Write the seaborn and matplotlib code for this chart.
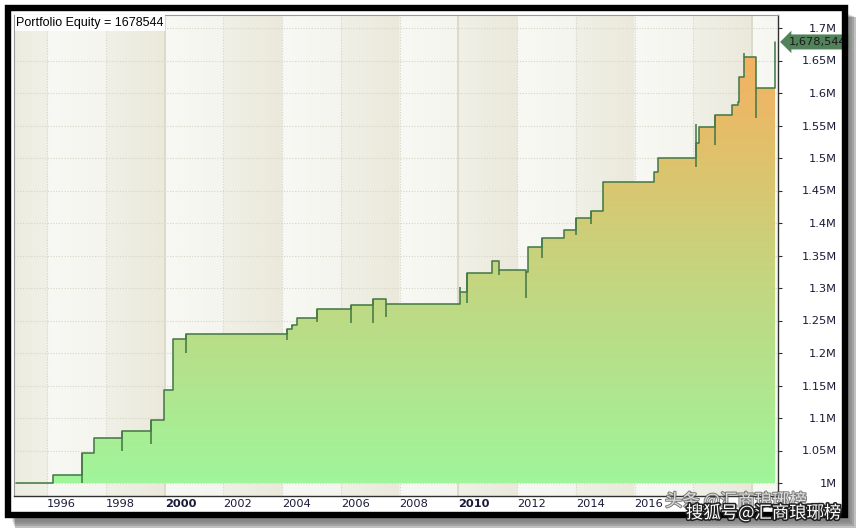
import numpy as np
import seaborn as sns
import matplotlib.pyplot as plt
from matplotlib import ticker, patheffects
from matplotlib.colors import LinearSegmentedColormap, to_rgb
from matplotlib.patches import Rectangle

# equity curve: step dates (fractional years) and equity after each step
dates = [1994.94, 1996.20, 1997.19, 1997.60, 1998.56, 1999.55, 1999.99, 2000.27,
         2000.71, 2004.16, 2004.33, 2004.50, 2005.18, 2006.34, 2007.09, 2007.54,
         2010.06, 2010.30, 2011.15, 2011.39, 2012.31, 2012.38, 2012.83, 2013.58,
         2014.02, 2014.53, 2014.91, 2016.65, 2016.79, 2018.08, 2018.18, 2018.73,
         2019.31, 2019.52, 2019.55, 2019.72, 2020.13, 2020.78]
equity = [1000000, 1012000, 1046000, 1069000, 1080000, 1097000, 1143000, 1222000,
          1229000, 1237000, 1243000, 1254000, 1268000, 1274000, 1283000, 1275000,
          1294000, 1323000, 1341000, 1328000, 1325000, 1363000, 1377000, 1389000,
          1408000, 1418000, 1463000, 1478000, 1500000, 1523000, 1548000, 1566000,
          1582000, 1586000, 1625000, 1655000, 1608000, 1678544]

# intra-trade excursions (wicks): date and the value the wick reaches
wick_dates = [1997.19, 1998.56, 1999.55, 2000.71, 2004.16, 2004.33, 2005.18, 2006.34,
              2007.09, 2007.54, 2010.06, 2010.30, 2011.39, 2012.31, 2012.83, 2014.02,
              2014.53, 2018.08, 2018.08, 2018.73, 2019.72, 2020.13]
wick_ends = [1000000, 1049000, 1060000, 1200000, 1220000, 1240000, 1248000, 1246000,
             1246000, 1255000, 1302000, 1277000, 1320000, 1285000, 1346000, 1382000,
             1398000, 1486000, 1552000, 1520000, 1661000, 1561000]

final_equity = 1678544
year_ticks = [1996, 1998, 2000, 2002, 2004, 2006, 2008, 2010, 2012, 2014, 2016, 2018, 2020]
year_labels = ['1996', '1998', '2000', '2002', '2004', '2006', '2008', '2010',
               '2012', '2014', '2016', '', '']
bold_years = ['2000', '2010']
decades = [2000, 2010, 2020]
y_ticks = [1000000, 1050000, 1100000, 1150000, 1200000, 1250000, 1300000, 1350000,
           1400000, 1450000, 1500000, 1550000, 1600000, 1650000, 1700000]

xmin, xmax = 1994.87, 2020.88
ymin, ymax = 980000, 1720000

sns.set_style('white')
plt.rcParams['font.family'] = ['DejaVu Sans']

W, H = 860, 532
fig = plt.figure(figsize=(W / 100, H / 100), dpi=100, facecolor='white')


def box(x0, y0, x1, y1):
    # pixel box (top-left origin) -> figure fraction rect
    return [x0 / W, 1 - y1 / H, (x1 - x0) / W, (y1 - y0) / H]


# drop shadow, inner white panel and black frame
for i, a in enumerate([0.10, 0.14, 0.20, 0.30]):
    r = box(12 + i, 14 + i, 856 - 2 * (3 - i), 528 - 2 * (3 - i))
    fig.patches.append(Rectangle(r[:2], r[2], r[3], transform=fig.transFigure,
                                 fc='#303030', ec='none', alpha=a, zorder=0.5))
r = box(8, 8, 845, 515)
fig.patches.append(Rectangle(r[:2], r[2], r[3], transform=fig.transFigure,
                             fc='white', ec='none', zorder=0.8))
fig.patches.append(Rectangle(r[:2], r[2], r[3], transform=fig.transFigure,
                             fc='none', ec='black', lw=4.6, zorder=5))

ax = fig.add_axes(box(14, 15, 778, 496))
ax.set_zorder(2)
ax.set_xlim(xmin, xmax)
ax.set_ylim(ymin, ymax)

# background bands, every second two-year band shaded
xs = np.linspace(xmin, xmax, 900)
light = np.array(to_rgb('#f8f8f4'))
dark_l = np.array(to_rgb('#f1f0e7'))
dark_r = np.array(to_rgb('#eae9db'))
cols = []
for x in xs:
    k = np.floor((x - 1994) / 2)
    f = ((x - 1994) / 2) - k
    if int(k) % 2 == 0:
        cols.append(dark_l * f + dark_r * (1 - f) if k == 0 else dark_l * (1 - f) + dark_r * f)
    else:
        cols.append(light * (1 - f) + np.array(to_rgb('#f5f5ef')) * f)
bg = np.array(cols)[None, :, :]
ax.imshow(bg, extent=[xmin, xmax, ymin, ymax], aspect='auto', zorder=0, interpolation='bilinear')

# grid
for yv in y_ticks:
    ax.axhline(yv, color='#d6d6c6', lw=0.8, ls=(0, (1, 1.5)), zorder=1)
for xv in year_ticks:
    if xv in decades:
        ax.axvline(xv, color='#dcdbc9', lw=1.4, zorder=1)
    else:
        ax.axvline(xv, color='#d6d6c6', lw=0.8, ls=(0, (1, 1.5)), zorder=1)

# gradient fill under the curve
cmap = LinearSegmentedColormap.from_list('eq', [
    (0.0, '#a0f59a'), (0.286, '#b6e08a'), (0.5, '#c9d27c'),
    (0.714, '#dfc26c'), (0.857, '#edb766'), (1.0, '#f7ae5e')])
grad = np.linspace(0, 1, 256)[:, None]
im = ax.imshow(grad, extent=[xmin, xmax, 1000000, 1700000], origin='lower',
               aspect='auto', cmap=cmap, zorder=2, interpolation='bilinear')
poly = ax.fill_between(dates, equity, 1000000, step='post', fc='none', ec='none')
im.set_clip_path(poly.get_paths()[0], transform=ax.transData)
ax.set_xlim(xmin, xmax)
ax.set_ylim(ymin, ymax)

# equity line and wicks
line_col = '#467a46'
sns.lineplot(x=dates, y=equity, drawstyle='steps-post', color=line_col, lw=1.15,
             estimator=None, ax=ax, zorder=4, legend=False)
ax.vlines(wick_dates, [equity[dates.index(d)] for d in wick_dates], wick_ends,
          color=line_col, lw=1.15, zorder=4)

# axes styling
for s in ['left', 'top']:
    ax.spines[s].set_color('#9a9a9a')
    ax.spines[s].set_linewidth(0.8)
for s in ['right', 'bottom']:
    ax.spines[s].set_color('#303030')
    ax.spines[s].set_linewidth(1.0)

ax.yaxis.tick_right()
ax.set_yticks(y_ticks)
ax.yaxis.set_major_formatter(ticker.FuncFormatter(lambda v, p: '%gM' % (v / 1e6)))
ax.tick_params(axis='y', direction='out', length=3, width=0.8, color='#303030',
               pad=39.5, labelsize=8.2, labelcolor='#1a1a38', left=False, right=True)
plt.setp(ax.yaxis.get_majorticklabels(), ha='right')

ax.set_xticks(year_ticks)
ax.set_xticklabels(year_labels)
ax.tick_params(axis='x', direction='out', length=3, width=0.8, color='#303030',
               pad=-0.8, labelsize=8.2, labelcolor='#1a1a38')
for lbl in ax.get_xticklabels():
    lbl.set_ha('left')
    if lbl.get_text() in bold_years:
        lbl.set_fontweight('bold')
ax.set_xlabel('')
ax.set_ylabel('')

# title box
ax.text(0.003, 0.996, 'Portfolio Equity = 1678544', transform=ax.transAxes,
        ha='left', va='top', fontsize=9, family=['Liberation Sans'], color='black',
        bbox=dict(fc='white', ec='none', pad=1.2), zorder=6)

# last value tag
ax.text(1.0135, final_equity, '{:,}'.format(final_equity),
        transform=ax.get_yaxis_transform(), ha='left', va='center', fontsize=8.2,
        color='#1a1a1a', clip_on=False, zorder=6,
        bbox=dict(boxstyle='larrow,pad=0.22', fc='#52825a', ec='none'))

# watermark
cjk = ['Noto Sans CJK SC', 'DejaVu Sans']
fig.text(665 / W, 1 - 501 / H, '头条 @汇商琅琊榜', fontsize=12.5, family=cjk,
         color='white', alpha=0.75, ha='left', va='center', zorder=6,
         path_effects=[patheffects.withStroke(linewidth=1.5, foreground='#555555')])
fig.text(686 / W, 1 - 513 / H, '搜狐号@汇商琅琊榜', fontsize=12.5, family=cjk,
         color='white', ha='left', va='center', zorder=7,
         path_effects=[patheffects.withStroke(linewidth=2.2, foreground='#202020')])

fig.savefig('out.png', dpi=100, facecolor='white')
